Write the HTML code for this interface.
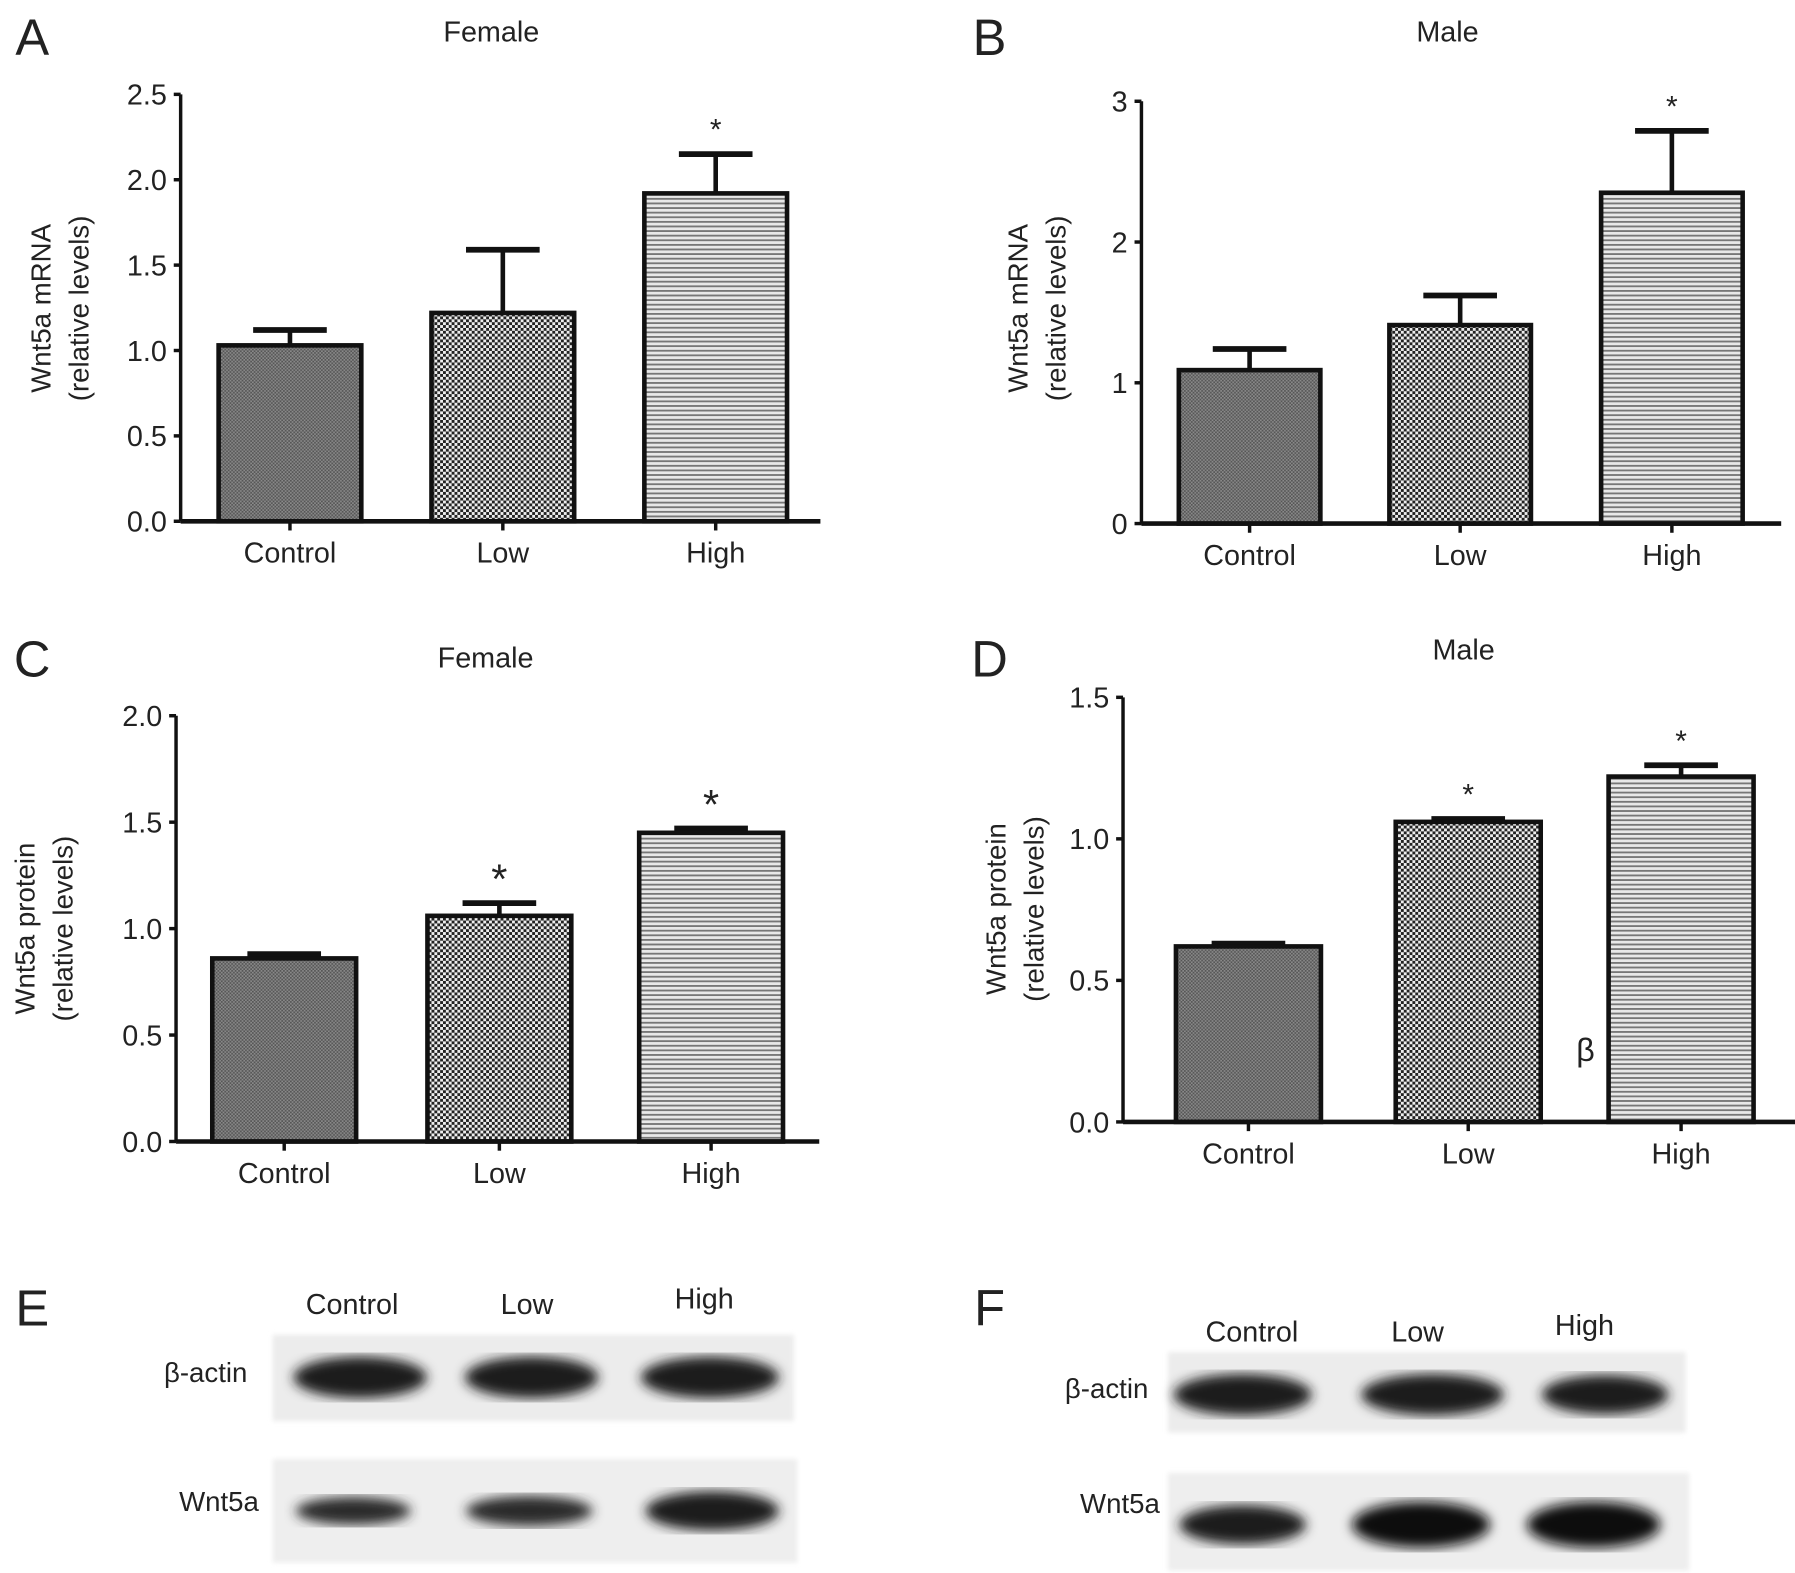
<!DOCTYPE html>
<html><head><meta charset="utf-8"><style>
html,body{margin:0;padding:0;background:#fff}
svg{display:block}
text{font-family:"Liberation Sans",sans-serif;fill:#222}
</style></head><body>
<svg id="fig" width="1795" height="1573" viewBox="0 0 1560 1367" preserveAspectRatio="none" xmlns="http://www.w3.org/2000/svg">
<defs>
<pattern id="pCtrl" width="3" height="3" patternUnits="userSpaceOnUse"><rect width="3" height="3" fill="#8a8a8a"/><rect width="1.5" height="1.5" fill="#555"/><rect x="1.5" y="1.5" width="1.5" height="1.5" fill="#555"/></pattern>
<pattern id="pLow" width="5" height="5" patternUnits="userSpaceOnUse"><rect width="5" height="5" fill="#222"/><rect width="2.5" height="2.5" fill="#eee"/><rect x="2.5" y="2.5" width="2.5" height="2.5" fill="#eee"/></pattern>
<pattern id="pHigh" width="4" height="4" patternUnits="userSpaceOnUse"><rect width="4" height="4" fill="#e8e8e8"/><rect width="4" height="1.6" fill="#777"/></pattern>
<filter id="blur"><feGaussianBlur stdDeviation="5"/></filter>
<filter id="blur2"><feGaussianBlur stdDeviation="2"/></filter>
</defs>
<g id="charts"></g>
<g>
<text x="28" y="1152" font-size="44" text-anchor="middle" fill="#111">E</text>
<text x="306" y="1142" font-size="25" text-anchor="middle">Control</text>
<text x="458" y="1142" font-size="25" text-anchor="middle">Low</text>
<text x="612" y="1137" font-size="25" text-anchor="middle">High</text>
<text x="215" y="1201" font-size="24" text-anchor="end">β-actin</text>
<text x="225" y="1313" font-size="24" text-anchor="end">Wnt5a</text>
<rect x="237" y="1160" width="453" height="75" fill="#ececec" filter="url(#blur2)"/>
<ellipse cx="313" cy="1197" rx="58" ry="18" fill="#1a1a1a" filter="url(#blur)"/>
<ellipse cx="462" cy="1197" rx="58" ry="18" fill="#1a1a1a" filter="url(#blur)"/>
<ellipse cx="617" cy="1197" rx="60" ry="18" fill="#1a1a1a" filter="url(#blur)"/>
<rect x="237" y="1268" width="456" height="90" fill="#eeeeee" filter="url(#blur2)"/>
<ellipse cx="307" cy="1313" rx="50" ry="12" fill="#2a2a2a" filter="url(#blur)"/>
<ellipse cx="460" cy="1313" rx="55" ry="13" fill="#2a2a2a" filter="url(#blur)"/>
<ellipse cx="619" cy="1313" rx="58" ry="17" fill="#1a1a1a" filter="url(#blur)"/>
</g>
<g>
<text x="860" y="1152" font-size="44" text-anchor="middle" fill="#111">F</text>
<text x="1088" y="1166" font-size="25" text-anchor="middle">Control</text>
<text x="1232" y="1166" font-size="25" text-anchor="middle">Low</text>
<text x="1377" y="1160" font-size="25" text-anchor="middle">High</text>
<text x="998" y="1215" font-size="24" text-anchor="end">β-actin</text>
<text x="1008" y="1315" font-size="24" text-anchor="end">Wnt5a</text>
<rect x="1015" y="1175" width="450" height="70" fill="#ececec" filter="url(#blur2)"/>
<ellipse cx="1080" cy="1212" rx="60" ry="18" fill="#1a1a1a" filter="url(#blur)"/>
<ellipse cx="1245" cy="1212" rx="62" ry="18" fill="#1a1a1a" filter="url(#blur)"/>
<ellipse cx="1395" cy="1212" rx="55" ry="17" fill="#1a1a1a" filter="url(#blur)"/>
<rect x="1015" y="1280" width="453" height="85" fill="#eeeeee" filter="url(#blur2)"/>
<ellipse cx="1080" cy="1325" rx="55" ry="17" fill="#1a1a1a" filter="url(#blur)"/>
<ellipse cx="1235" cy="1325" rx="60" ry="20" fill="#111" filter="url(#blur)"/>
<ellipse cx="1385" cy="1325" rx="58" ry="20" fill="#111" filter="url(#blur)"/>
</g>
</svg>
<script>
const categories = ["Control", "Low", "High"];
const valuesA = [1.03, 1.22, 1.92];
const errTopA = [1.12, 1.59, 2.15];
const ticksA = ["0.0", "0.5", "1.0", "1.5", "2.0", "2.5"];
const valuesB = [1.09, 1.41, 2.35];
const errTopB = [1.24, 1.62, 2.79];
const ticksB = ["0", "1", "2", "3"];
const valuesC = [0.86, 1.06, 1.45];
const errTopC = [0.88, 1.12, 1.47];
const ticksC = ["0.0", "0.5", "1.0", "1.5", "2.0"];
const valuesD = [0.62, 1.06, 1.22];
const errTopD = [0.63, 1.07, 1.26];
const ticksD = ["0.0", "0.5", "1.0", "1.5"];
const starsA = [false, false, true];
const starsB = [false, false, true];
const starsC = [false, true, true];
const starsD = [false, true, true];

const NS = "http://www.w3.org/2000/svg";
const root = document.getElementById("charts");
function mk(tag, attrs, parent, txt) {
  const e = document.createElementNS(NS, tag);
  for (const k in attrs) e.setAttribute(k, attrs[k]);
  if (txt !== undefined) e.textContent = txt;
  parent.appendChild(e);
  return e;
}
const fills = ["url(#pCtrl)", "url(#pLow)", "url(#pHigh)"];
function drawChart(cfg, values, errs, ticks, stars) {
  const g = mk("g", {}, root);
  
  
  const ymax = parseFloat(ticks[ticks.length - 1]);
  const y = v => cfg.y0 - (v / ymax) * (cfg.y0 - cfg.yTop);
  const L = mk("text", {x: cfg.letterX, y: cfg.letterY, "font-size": 44, "text-anchor": "middle", fill: "#111"}, g, cfg.letter);
  
  
  const T = mk("text", {x: cfg.titleX, y: cfg.titleY, "font-size": 25, "text-anchor": "middle"}, g, cfg.title);
  
  
  const yt = mk("text", {transform: `translate(${cfg.ytX},${cfg.ytY}) rotate(-90)`, "font-size": 24, "text-anchor": "middle"}, g);
  
  
  mk("tspan", {x: 0, y: 0}, yt, cfg.ytitle);
  mk("tspan", {x: 0, dy: 33}, yt, "(relative levels)");
  for (let i = 0; i < ticks.length; i++) {
    const v = parseFloat(ticks[i]);
    const tl = mk("text", {x: cfg.x0 - 12, y: y(v) + 9, "font-size": 25, "text-anchor": "end"}, g, ticks[i]);
    
    
    mk("line", {x1: cfg.x0 - 6, x2: cfg.x0, y1: y(v), y2: y(v), stroke: "#111", "stroke-width": 3}, g);
  }
  const bw = cfg.bw;
  for (let i = 0; i < values.length; i++) {
    const cx = cfg.centers[i];
    const top = y(values[i]);
    const et = y(errs[i]);
    const eb = mk("line", {x1: cx, x2: cx, y1: et, y2: top, stroke: "#111", "stroke-width": 4}, g);
    
    
    mk("line", {x1: cx - 32, x2: cx + 32, y1: et, y2: et, stroke: "#111", "stroke-width": 5}, g);
    const b = mk("rect", {x: cx - bw / 2, y: top, width: bw, height: cfg.y0 - top, fill: fills[i], stroke: "#111", "stroke-width": 4}, g);
    
    
    mk("line", {x1: cx, x2: cx, y1: cfg.y0, y2: cfg.y0 + 8, stroke: "#111", "stroke-width": 3}, g);
    const cl = mk("text", {x: cx, y: cfg.y0 + 36, "font-size": 25, "text-anchor": "middle"}, g, categories[i]);
    
    
    if (stars[i]) {
      const s = mk("text", {x: cx, y: et - 24 + cfg.starSize * 0.44, "font-size": cfg.starSize, "text-anchor": "middle", fill: "#111"}, g, "*");
      
      
    }
  }
  const ya = mk("line", {x1: cfg.x0, x2: cfg.x0, y1: cfg.yTop, y2: cfg.y0, stroke: "#111", "stroke-width": 3}, g);
  
  
  const xa = mk("line", {x1: cfg.x0, x2: cfg.xEnd, y1: cfg.y0, y2: cfg.y0, stroke: "#111", "stroke-width": 4}, g);
  
  
  return g;
}
drawChart({name: "chart-a", letter: "A", letterX: 28, letterY: 48, title: "Female", titleX: 427, titleY: 36,
  x0: 157, xEnd: 713, yTop: 82, y0: 453, centers: [252, 437, 622], bw: 124, ytitle: "Wnt5a mRNA", ytX: 44, ytY: 268, starSize: 26},
  valuesA, errTopA, ticksA, starsA);
drawChart({name: "chart-b", letter: "B", letterX: 860, letterY: 48, title: "Male", titleX: 1258, titleY: 36,
  x0: 992, xEnd: 1548, yTop: 88, y0: 455, centers: [1086, 1269, 1453], bw: 123, ytitle: "Wnt5a mRNA", ytX: 893, ytY: 268, starSize: 26},
  valuesB, errTopB, ticksB, starsB);
drawChart({name: "chart-c", letter: "C", letterX: 28, letterY: 588, title: "Female", titleX: 422, titleY: 580,
  x0: 153, xEnd: 712, yTop: 622, y0: 992, centers: [247, 434, 618], bw: 125, ytitle: "Wnt5a protein", ytX: 30, ytY: 807, starSize: 36},
  valuesC, errTopC, ticksC, starsC);
const gD = drawChart({name: "chart-d", letter: "D", letterX: 860, letterY: 588, title: "Male", titleX: 1272, titleY: 573,
  x0: 976, xEnd: 1560, yTop: 606, y0: 975, centers: [1085, 1276, 1461], bw: 126, ytitle: "Wnt5a protein", ytX: 874, ytY: 790, starSize: 26},
  valuesD, errTopD, ticksD, starsD);
const beta = mk("text", {x: 1378, y: 922, "font-size": 28, "text-anchor": "middle", "font-family": "Liberation Serif, serif"}, gD, "β");


</script>
</body></html>
